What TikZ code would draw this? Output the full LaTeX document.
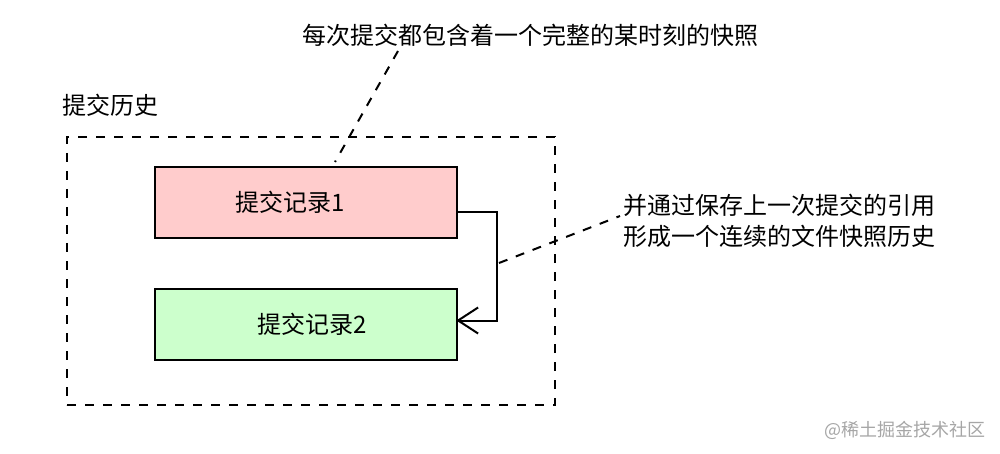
\documentclass[tikz,border=0pt]{standalone}
\usepackage{fontspec}
\setmainfont{Noto Sans CJK SC}
\usetikzlibrary{arrows.meta}
\begin{document}
\begin{tikzpicture}[x=1pt,y=-1pt,
  every node/.style={inner sep=0pt, font=\fontsize{24pt}{31pt}\selectfont},
  box/.style={draw=black, line width=2.5pt, minimum width=302pt, minimum height=71pt},
  dsh/.style={line width=2pt, dash pattern=on 9pt off 9pt},
  conn/.style={line width=2pt, -{Straight Barb[length=20pt,width=26pt]}},
  lbl/.style={text=black},
]
\useasboundingbox (0,0) rectangle (1000,454);
% container
\node[draw=black, dsh, minimum width=488pt, minimum height=268pt] (hist) at (311,271) {};
\node[lbl, anchor=west] (histlbl) at (62,105) {提交历史};
% commit boxes
\node[box, fill={rgb,255:red,255;green,204;blue,204}] (b1) at (306,202.5) {};
\node[box, fill={rgb,255:red,204;green,255;blue,204}] (b2) at (306,324.5) {};
\node[lbl] (b1t) at ([xshift=-16pt]b1.center) {提交记录1};
\node[lbl] (b2t) at ([xshift=6pt]b2.center) {提交记录2};
% reference connector
\coordinate (c1) at (497,212.5);
\draw[conn] ([yshift=-10pt,xshift=-2pt]b1.east) -- (c1) |- ([yshift=4pt,xshift=-2pt]b2.east);
% annotations
\node[lbl] (top) at (530.5,35) {每次提交都包含着一个完整的某时刻的快照};
\node[lbl, anchor=west, align=left] (right) at (623,220.5) {并通过保存上一次提交的引用\\形成一个连续的文件快照历史};
\coordinate (d1a) at (398,51);
\coordinate (d1b) at (335,162);
\draw[dsh] (d1a) -- (d1b);
\coordinate (d2a) at (499,263);
\coordinate (d2b) at (620,216);
\draw[dsh] (d2a) -- (d2b);
% watermark
\node[anchor=west, text=black!35, font=\fontsize{18pt}{20pt}\selectfont] (wm) at (824,430) {@稀土掘金技术社区};
\end{tikzpicture}
\end{document}
